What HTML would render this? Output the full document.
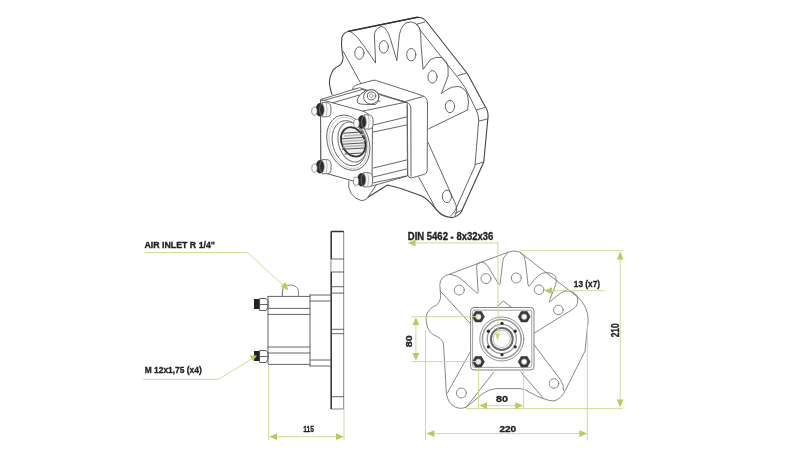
<!DOCTYPE html>
<html><head><meta charset="utf-8">
<style>
html,body{margin:0;padding:0;background:#fff;width:800px;height:450px;overflow:hidden}
svg{position:absolute;left:0;top:0;filter:blur(0.35px)}
text{font-family:"Liberation Sans",sans-serif;font-weight:bold;fill:#222;stroke:#222;stroke-width:0.32}
.k{fill:none;stroke:#555;stroke-width:0.9;stroke-linejoin:round;stroke-linecap:round}
.d{fill:none;stroke:#333;stroke-width:1.3}
.g{fill:none;stroke:#cbdd97;stroke-width:1}
.ga{fill:#b3cd62;stroke:none}
#front .k{stroke:#7a7a7a}
.k.w{fill:#fff}
</style></head><body>
<svg width="800" height="450" viewBox="0 0 800 450">
<!-- ============ SIDE VIEW (bottom-left) ============ -->
<g id="side">
  <!-- flange -->
  <rect class="k" x="331.3" y="231.5" width="12.4" height="177.5" style="stroke:#777"/>
  <path class="d" d="M331.3 231.5V259 M331.3 272V409 M331.3 231.5H343.7"/>
  <path class="k" d="M331.3 259H343.7 M331.3 272H343.7 M331.3 286.7H343.7 M331.3 293.1H343.7 M331.3 329.3H343.7 M331.3 333.7H343.7 M331.3 396.7H343.7"/>
  <!-- block 2 -->
  <path class="k" d="M310 295H331.3 M310 301H331.3 M310 295V366 M310 360H331.3 M310 366H331.3"/>
  <!-- block 1 -->
  <path class="k" d="M268 296.4H310 M268 296.4V364.4H310 M268 308.4H310 M268 314.4H310 M268 347H310 M268 353H310"/>
  <!-- air inlet dome -->
  <path class="k" d="M282.4 296.4V291 A8 6 0 0 1 298.4 291V296.4" style="stroke:#777"/><path class="k" d="M282.4 296.4V290" style="stroke:#7a7aa8"/>
  <!-- nuts -->
  <rect x="254" y="299" width="6" height="10" fill="#222"/>
  <path class="k" d="M260 298.5H266 L268 301V307 L266 310.5H260Z"/>
  <path class="k" d="M260 304.5H268"/>
  <rect x="254" y="351" width="6" height="10" fill="#222"/>
  <path class="k" d="M260 350.5H266 L268 353V359 L266 362.5H260Z"/>
  <path class="k" d="M260 356.5H268"/>
</g>
<!-- side view annotations -->
<text x="144.5" y="247.5" font-size="9.1" textLength="70.5" lengthAdjust="spacingAndGlyphs">AIR INLET R 1/4"</text>
<path class="g" d="M144.5 252.5H247.5L285 287"/>
<path class="ga" d="M288.5 290.5L281 287L285.5 282Z"/>
<text x="144.8" y="373.2" font-size="9.2" textLength="56.9" lengthAdjust="spacingAndGlyphs">M 12x1,75 (x4)</text>
<path class="g" d="M142.8 379.3H218.4L254 357.5"/>
<path class="ga" d="M257 355.5L250 355.5L253 361Z"/>
<!-- 115 dim -->
<path class="g" d="M268.6 366V440 M344 409V440 M272 436.7H341"/>
<path class="ga" d="M269 436.7L277 433.3V440Z M344 436.7L336 433.3V440Z"/>
<text x="303.3" y="432" font-size="8.8" textLength="10.7" lengthAdjust="spacingAndGlyphs">115</text>

<!-- ============ FRONT VIEW (bottom-right) ============ -->
<g id="front" style="--c:#777">
  <path class="k" d="M440.3 291 L439.8 284.5 Q440.5 276 449.3 274.3 L508 252.2 Q514 249.8 519.5 252 L577.3 296.7 Q588 306 588.2 320 L585 351.1 L566 389 Q561 400 553 401 Q545 400.5 529 392 Q524.5 388.8 520 388.6 L496 388.6 Q489 389 483 393.5 L466.5 407 Q459 410.5 452 405 Q447 400 446.3 392.3 L443.5 344 Q442.5 338.5 433.3 334.7 Q426 330 426 317.3 Q427.5 309 436 305.3 Q440.8 302 440.6 296 Z"/>
  <path class="k" d="M470.7 324 L440.2 291"/>
  <path class="k" d="M449.8 274.3 L454.11 275.35 Q458 276.3 460.99 278.95 L476.43 292.64 Q478.3 294.3 478.14 291.8 L476.58 266.81 Q476.4 264 478.95 262.8 L478.99 262.78 Q481.5 261.6 484 262.8 L484 262.8 Q486.5 264 487.93 266.37 L498.51 283.86 Q499.8 286 500.1 283.52 L502.84 260.98 Q503.2 258 505.15 255.72 L508 252.4"/>
  <path class="k" d="M520.5 252.3 L522.5 254.4 Q524.5 256.5 524.95 259.36 L525.53 263.04 Q526 266 526.32 268.98 L528.03 284.71 Q528.3 287.2 529.85 285.24 L534.13 279.85 Q536 277.5 538.4 275.7 L539.6 274.8 Q542 273 544.99 272.74 L546.15 272.64 Q550 272.3 553.25 274.4 L553.34 274.46 Q556.5 276.5 556.25 280.25 L556.2 281.01 Q556 284 554.91 286.79 L549.41 300.87 Q548.5 303.2 550.36 301.53 L553.76 298.5 Q556 296.5 558.44 294.76 L560.74 293.12 Q564 290.8 568 290.9 L568.1 290.9 Q572 291 575 293.5 L575 293.5 Q578 296 577.7 299.89 L577.49 302.6 Q577.3 305 575.65 306.75 L575.37 307.04 Q574 308.5 572.3 309.55 L533.9 333.3"/>
  <path class="k" d="M533.9 344.4 L560.6 380 Q564.5 386 563.5 390.5"/>
  <path class="k" d="M521 372 L543 398"/>
  <path class="k" d="M493.5 372.5 L466.3 407.2"/>
  <path class="k" d="M470.8 350.8 L447.3 393.2"/>
  <g class="k">
    <circle cx="459.3" cy="290" r="5"/><circle cx="486" cy="278.6" r="5"/><circle cx="516.3" cy="278" r="5"/>
    <circle cx="539.1" cy="289.7" r="4.8"/><circle cx="558.4" cy="310" r="4.8"/><circle cx="554" cy="383.5" r="4.8"/><circle cx="461.4" cy="393" r="5"/>
  </g>
  <rect class="k w" x="470.6" y="307.5" width="63.4" height="62.5" rx="3.5" style="stroke:#777"/>
  <rect class="k" x="472.6" y="310.2" width="59.2" height="57.2" rx="2" style="stroke:#999"/>
  <path class="k" d="M496.7 307.5 L503.3 300.8 L511.7 307.5"/>
  <g class="k" style="stroke:#888">
    <circle cx="501.8" cy="339" r="22"/><circle cx="501.8" cy="339" r="19.4" style="stroke:#999;stroke-width:1.5"/>
    <circle cx="501.8" cy="339" r="14.6" style="stroke:#999;stroke-width:1.3"/><circle cx="501.8" cy="339" r="8.6" style="stroke:#bbb"/>
  </g>
  <circle cx="501.8" cy="339" r="10.9" fill="none" stroke="#6a6a6a" stroke-width="2"/>
  <g fill="#2a2a2a">
    <circle cx="502" cy="323.3" r="1.6"/><circle cx="502" cy="354.7" r="1.6"/>
    <circle cx="488.4" cy="331.2" r="1.6"/><circle cx="515.2" cy="331.2" r="1.6"/>
    <circle cx="488.4" cy="346.8" r="1.6"/><circle cx="515.2" cy="346.8" r="1.6"/>
  </g>
  <g fill="#3a3a3a" stroke="#333" stroke-width="0.6">
    <path d="M484.4 316.7 L481.4 321.9 L475.4 321.9 L472.4 316.7 L475.4 311.5 L481.4 311.5Z"/>
    <path d="M530.2 316.7 L527.2 321.9 L521.2 321.9 L518.2 316.7 L521.2 311.5 L527.2 311.5Z"/>
    <path d="M484.4 361.7 L481.4 366.9 L475.4 366.9 L472.4 361.7 L475.4 356.5 L481.4 356.5Z"/>
    <path d="M530.2 361.7 L527.2 366.9 L521.2 366.9 L518.2 361.7 L521.2 356.5 L527.2 356.5Z"/>
  </g>
  <g fill="#fff" stroke="#aaa" stroke-width="0.7">
    <circle cx="478.4" cy="316.7" r="2.7"/><circle cx="524.2" cy="316.7" r="2.7"/><circle cx="478.4" cy="361.7" r="2.7"/><circle cx="524.2" cy="361.7" r="2.7"/>
  </g>
</g>
<!-- front annotations -->
<text x="407.8" y="239.9" font-size="10.3" textLength="85.6" lengthAdjust="spacingAndGlyphs">DIN 5462 - 8x32x36</text>
<path class="g" d="M410 242.9H498V334"/>
<path d="M497.6 340.5L495.2 333.5H500Z" fill="#c2d77a"/>
<path class="ga" d="M407.8 242.9L415.5 239.5V246.3Z"/>
<text x="573.8" y="287.3" font-size="9" textLength="26.2" lengthAdjust="spacingAndGlyphs">13 (x7)</text>
<path class="g" d="M548 290.7H604.4"/>
<path class="ga" d="M544 290.7L552 287.3V294.1Z"/>
<!-- 210 -->
<path class="g" d="M520 250.7H623.3 M466 408.6H622.7 M620.2 255V405"/>
<path class="ga" d="M620.2 251.5L616.8 259.5H623.6Z M620.2 407.5L616.8 399.5H623.6Z"/>
<text transform="translate(619,337.3) rotate(-90)" font-size="10" textLength="14" lengthAdjust="spacingAndGlyphs">210</text>
<!-- 80 vertical -->
<path class="g" d="M411.6 316.7H478 M411.6 361.6H478 M415.9 320V358"/>
<path class="ga" d="M415.9 317.2L412.5 325H419.3Z M415.9 361L412.5 353H419.3Z"/>
<text transform="translate(412,347.3) rotate(-90)" font-size="9.8" textLength="12" lengthAdjust="spacingAndGlyphs">80</text>
<!-- 80 horizontal -->
<path class="g" d="M478.6 368V408.4 M523.6 368V408.4 M482 405.6H520"/>
<path class="ga" d="M479 405.6L487 402.2V409Z M523.2 405.6L515.2 402.2V409Z"/>
<text x="496.1" y="401.7" font-size="9.3" textLength="11.9" lengthAdjust="spacingAndGlyphs">80</text>
<!-- 220 -->
<path class="g" d="M425.5 330V440 M587.3 325V440 M430 433.6H584"/>
<path class="ga" d="M426.4 433.6L434.4 430.2V437Z M587.3 433.6L579.3 430.2V437Z"/>
<text x="499.4" y="432" font-size="9" textLength="16.7" lengthAdjust="spacingAndGlyphs">220</text>

<!-- ============ ISO VIEW (top) ============ -->
<g id="iso">
  <!-- flange plate outer -->
  <path class="k" d="M331.9 94.4 Q330 88 329.4 83.75 Q329.2 77 333.1 70 Q336 67 339.5 65.5 Q342.5 63.5 343.1 57.5 L341.9 50 Q341 43 341.9 37.5 Q343.5 32.5 348.75 31.25 L417.5 17.25 Q423 17.3 426.25 21.25 L467.5 73.75 L485 106.25 Q488 110 488.1 116 L483.75 162 L461.25 212 Q458 216.5 452 217.6 Q446 217.5 441.25 214.5 L435 208.25 Q428 199 421.25 195.75 L400 188.25 L387.5 185 L367.5 197.5" style="stroke-width:1.1;stroke:#444"/>
  <path class="k" d="M348.75 31.25 L417.5 17.25" style="stroke-width:1.6;stroke:#333"/>
  <!-- inner edge + ticks -->
  <path class="k" d="M416.25 24.4 Q419.5 26.5 420.5 30.5 L447 64 L458.75 78.75 L465 87.5 L470 97.5 L476.25 110 Q478.5 115 478.75 120 L475 165.75 L455 210.75 Q453 214 450.5 216"/>
  <path class="k" d="M416.25 24.4 L425 21.9 M458.1 75.6 L466.25 73.1 M476.25 110 L485 107.5 M478.75 121.25 L487.8 118.75 M475 164.5 L483.5 162 M455 213.25 L462.5 210.1"/>
  <!-- rib zigzag -->
  <path class="k" d="M350 31.25 Q353.5 33.5 357.5 37.5 L365 47.5 L375.6 63.1 L374.4 35 Q375 28.5 381.25 26.4 Q386.5 27 390 37.5 L396.9 60.6 L398.75 41.25 Q399.3 27 406 23 Q411 20.5 416 23.5 Q419.8 26.5 420.6 32.5 L421.25 47.5 L423.1 69.4 L430 60 Q436 56 441.25 57.5 Q447.5 60.5 448.1 68 L448.1 76.25 L441.25 93.75 L446.25 90 Q452 86 458 86.5 Q465 87.5 467.5 95 Q469.5 102 467.5 110 L428.75 128.75"/>
  <path class="k" d="M343.1 51.25 L360.6 83.1"/>
  <path class="k" d="M428.1 142.5 L456 205 Q457.5 212 455 216"/>
  <path class="k" d="M418.75 177 L436.25 209.5 Q441 215 447.5 217"/>
  
  <!-- holes -->
  <g class="k">
    <ellipse cx="359.4" cy="53.1" rx="4.6" ry="6.2"/><ellipse cx="383.75" cy="46.9" rx="4.6" ry="6.2"/>
    <ellipse cx="411.25" cy="54.7" rx="4.6" ry="6.2"/><ellipse cx="432.5" cy="76.9" rx="4.6" ry="6.2"/>
    <ellipse cx="450" cy="106.5" rx="4.6" ry="6.2"/><ellipse cx="446.9" cy="196.4" rx="4.6" ry="6.2"/>
  </g>
  <!-- lobe 7 under front -->
  <path class="k w" d="M348.75 181.25 Q347.5 187.5 351.25 193.75 Q355.5 199 361.25 200.6 Q364.5 200.5 366.7 198.9 L376.7 184.4"/>
  <!-- collar -->
  <path class="k w" d="M352.7 88.5 Q353.5 85.5 358.5 84.3 L373 80.3 Q375 80 376.5 80.6 L422.5 95.6 Q427.3 97.3 427.5 103 L427.2 170 Q427 173.5 424.5 174.3 L411 178 Q408.5 178.2 407.8 175 L407.3 106 Q407 102.5 404.5 101.5 Z"/>
  <path class="k" d="M404.5 101.5 Q409.5 102.5 410.8 107 L411 176.5 M406.25 101.25 L423 96.5"/>
  <!-- body (between front cover and collar) -->
  <path class="k w" d="M320.9 99.4 L359.4 87.7 L407 102.5 L407.5 176 L372 186 L321 171.5 Z"/>
  <path class="k" d="M322.5 100.8 L362.3 89.5 M332.7 102.8 L358.9 95.2 M362.3 89.5 L405.5 102.5 M358.9 95.2 L380 101.5"/>
  <path class="k" d="M362.3 111.2 L405 102.3 M373.5 125 L406.5 117 M373.5 132 L406.5 125 M373.5 168 L406.5 160 M373.5 177 L406.5 169 M373.5 182.8 L406.5 176"/>
  <!-- front face -->
  <path class="k w" d="M322.5 100 L362.3 111 Q370 113 372.5 121 L372 182 Q371.5 186 367.5 185 L325 173 Q321 172 321 168 L320.5 104 Q320.5 99.5 322.5 100 Z"/>
  <!-- air inlet boss -->
  <path class="k w" d="M362 93 Q355.5 99.5 357.7 102.8 Q360 104.4 364 104.3 L375.4 104.5 Q379 102 378.8 97 Q378 89.7 371.2 89.7 Q365 90 362 93 Z"/>
  <ellipse class="k w" cx="371.2" cy="96.9" rx="7.6" ry="7.2"/>
  <ellipse class="k" cx="371.6" cy="95.9" rx="4.2" ry="4"/>
  <circle class="k" cx="371.4" cy="95.8" r="1.8" style="stroke:#999"/>
  <!-- boss on front -->
  <circle r="1" transform="matrix(21.6,5.832,0,27,348.3,142.7)" vector-effect="non-scaling-stroke" fill="#fff" stroke="#555" stroke-width="0.9"/>
  <circle r="1" transform="matrix(19.6,5.292,0,25,348.6,142.9)" vector-effect="non-scaling-stroke" fill="none" stroke="#bbb" stroke-width="0.8"/>
  <circle r="1" transform="matrix(17,4.59,0,22.1,349.1,143.2)" vector-effect="non-scaling-stroke" fill="none" stroke="#555" stroke-width="0.9"/>
  <circle r="1" transform="matrix(14.4,3.888,0,19.6,352.3,142)" vector-effect="non-scaling-stroke" fill="none" stroke="#888" stroke-width="1.2"/>
  <circle r="1" transform="matrix(12.2,3.294,0,14.3,353.2,141.9)" vector-effect="non-scaling-stroke" fill="#f0f0f0" stroke="#333" stroke-width="1.8"/>
  <path d="M342.5 133.3 L363.5 131.8 M341.5 138.8 L365 137.3 M341.3 144.3 L365 142.8 M342 149.3 L364.3 148 M344.5 154 L362 153" stroke="#555" stroke-width="1" fill="none"/>
  <path d="M344 136 L364 134.5 M343 141.5 L365 140 M343 146.8 L364.5 145.4" stroke="#bbb" stroke-width="1.6" fill="none"/>
  <!-- studs & nuts -->
<defs>
  <g id="stud">
    <path d="M2.5 -7.8 L8.5 -7.4 Q11.3 -6.3 11.4 -3 L11.3 3 Q11 6.2 8.3 6.5 L2.5 6.6 Z" fill="#f8f8f8" stroke="#555" stroke-width="0.8"/>
    <path d="M6.5 -7.5 Q8.5 -2 6.5 6.5" fill="none" stroke="#999" stroke-width="0.6"/>
    <ellipse cx="0.3" cy="-0.5" rx="4.3" ry="6.8" fill="#2c2c2c"/>
    <ellipse cx="2.3" cy="-0.5" rx="2.3" ry="5.8" fill="none" stroke="#888" stroke-width="0.7"/>
    <ellipse cx="-5.2" cy="0.9" rx="2.7" ry="4.1" fill="#fff" stroke="#666" stroke-width="0.7"/>
  </g>
</defs>
  <g id="nuts">
    <use href="#stud" x="319.6" y="110.2"/>
    <use href="#stud" x="361.7" y="122.5"/>
    <use href="#stud" x="319.7" y="167.2"/>
    <use href="#stud" x="361.2" y="180.3"/>
  </g>
</g>
</svg>
</body></html>
